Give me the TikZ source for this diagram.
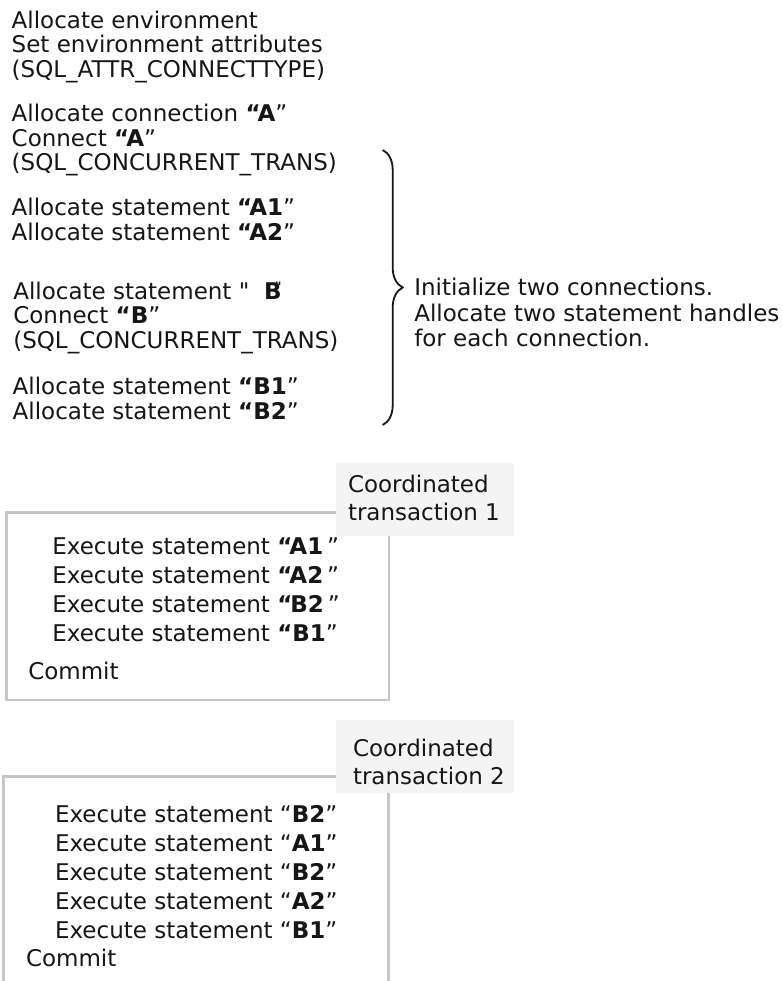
\documentclass[tikz,border=0pt]{standalone}
\usepackage{fontspec}
\setmainfont{DejaVu Sans}
\usetikzlibrary{decorations.pathreplacing}
\definecolor{ink}{HTML}{161616}
\definecolor{edgegray}{HTML}{C6C6C6}
\definecolor{tagbg}{HTML}{F4F4F4}

\begin{document}
\begin{tikzpicture}[x = 1pt, y = -1pt,
  every node/.style = {inner sep = 0, outer sep = 0, text = ink},
  lines/.style = {anchor = north west, align = left, font = \fontsize{23}{24.5}\selectfont},
  exec/.style = {lines, font = \fontsize{23}{29}\selectfont},
  tagbox/.style = {anchor = north west, fill = tagbg, minimum width = 178pt, minimum height = 72.7pt},
  txbox/.style = {anchor = north west, draw = edgegray, line width = 2.5pt}]

  \path[use as bounding box, clip] (0,0) rectangle (782,981);

  \node[lines] (a) at (11.7,10.8) {Allocate environment\\Set environment attributes\\(SQL\_ATTR\_CONNECTTYPE)};
  \node[lines] (b) at (11.7,104.2) {Allocate connection \textbf{“A}”\\Connect \textbf{“A}”\\(SQL\_CONCURRENT\_TRANS)};
  \node[lines] (c) at (11.7,198.5) {Allocate statement \textbf{“A1}”\\Allocate statement \textbf{“A2}”};
  \node[lines] (d) at (13.3,281.8) {Allocate statement \textquotedbl\ \ \textbf{B\llap{\raisebox{8pt}{\fontsize{13}{13}\selectfont\textquotedbl}}}\\Connect \textbf{“B}”\\(SQL\_CONCURRENT\_TRANS)};
  \node[lines] (e) at (12.7,377.5) {Allocate statement \textbf{“B1}”\\Allocate statement \textbf{“B2}”};

  % brace over the set-up steps
  \coordinate (bt) at (382.7,150);
  \coordinate (bb) at (382.7,425);
  \draw[ink, line width = 1.8pt, decorate, decoration = {brace, amplitude = 20pt}] (bt) -- (bb);
  \node[lines, font = \fontsize{23}{25.35}\selectfont] (f) at (414.3,278.5) {Initialize two connections.\\Allocate two statement handles\\for each connection.};

  % transaction 1
  \node[txbox, minimum width = 382.3pt, minimum height = 187.3pt] (g) at (6.7,512.7) {};
  \node[tagbox] (h) at (336,463.3) {};
  \node[lines, font = \fontsize{23}{28.3}\selectfont] (i) at (348,475.2) {Coordinated\\transaction 1};
  \node[exec] (j) at (52.3,538.2) {Execute statement \textbf{“A1}\,”\\Execute statement \textbf{“A2}\,”\\Execute statement \textbf{“\kern-2pt B2}\,”\\Execute statement \textbf{“B1}”};
  \node[anchor = base west, font = \fontsize{23}{29}\selectfont] (k) at (28.3,679) {Commit};

  % transaction 2
  \node[txbox, minimum width = 385.4pt, minimum height = 260pt] (l) at (3.3,776.7) {};
  \node[tagbox] (m) at (336,720) {};
  \node[lines, font = \fontsize{23}{28.3}\selectfont] (n) at (353,739.2) {Coordinated\\transaction 2};
  \node[exec] (o) at (55,805.9) {Execute statement “\textbf{B2}”\\Execute statement “\textbf{A1}”\\Execute statement “\textbf{B2}”\\Execute statement “\textbf{A2}”\\Execute statement “\textbf{B1}”};
  \node[anchor = base west, font = \fontsize{23}{29}\selectfont] (p) at (26,966.7) {Commit};
\end{tikzpicture}
\end{document}
